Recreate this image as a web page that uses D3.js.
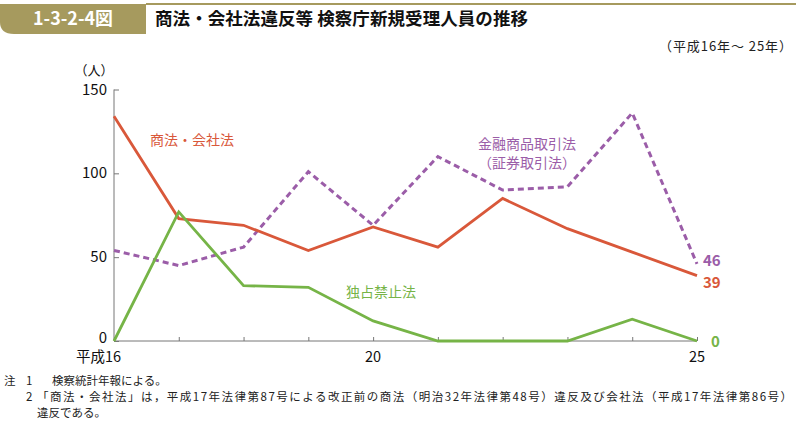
<!DOCTYPE html>
<html><head><meta charset="utf-8">
<script src="https://cdn.jsdelivr.net/npm/d3@7"></script>
<style>body{margin:0;background:#fff;}svg{display:block;font-family:"Noto Sans CJK JP","Noto Sans",sans-serif;}</style>
</head><body>
<script>
const years = [16,17,18,19,20,21,22,23,24,25];
const shoho = [134,73,69,54,68,56,85,67,53,39];
const kinyu = [54,45,56,101,69,110,90,92,136,46];
const dokusen = [0,77,33,32,12,0,0,0,13,0];
const yTicks = [0,50,100,150];
const xTickLabels = {16:"平成16",20:"20",25:"25"};

const W=796,H=421;
const svg=d3.select("body").append("svg").attr("width",W).attr("height",H);
const gold="#a69a5e";
// header
svg.append("path").attr("d","M0,4 H146 V34 H14 Q0,34 0,22 Z").attr("fill",gold);
svg.append("rect").attr("x",146).attr("y",3).attr("width",650).attr("height",2).attr("fill",gold);
svg.append("text").attr("x",33).attr("y",25).attr("fill","#fff").attr("font-weight","bold").attr("font-size",18).attr("textLength",80).attr("lengthAdjust","spacingAndGlyphs").text("1-3-2-4図");
svg.append("text").attr("x",155).attr("y",25).attr("fill","#111").attr("font-weight","bold").attr("font-size",17.5).attr("textLength",373).text("商法・会社法違反等 検察庁新規受理人員の推移");
svg.append("text").attr("x",659).attr("y",51).attr("font-size",13).attr("fill","#222").attr("textLength",133).text("（平成16年～ 25年）");

const x=d3.scaleLinear().domain([16,25]).range([114,697]);
const y=d3.scaleLinear().domain([0,150]).range([341,89.5]);

// axes
const gx=svg.append("g").attr("transform","translate(0,341)")
 .call(d3.axisBottom(x).tickValues(years).tickSize(-4).tickFormat(""));
gx.selectAll("line,path").attr("stroke","#777");
const gy=svg.append("g").attr("transform","translate(114,0)")
 .call(d3.axisLeft(y).tickValues(yTicks).tickSize(-5).tickFormat(""));
gy.selectAll("line,path").attr("stroke","#777");
gy.select(".domain").attr("d","M0,"+y(150)+"V"+y(0));
gx.select(".domain").attr("d","M"+x(16)+",0H"+x(25));

svg.selectAll(".yl").data(yTicks).join("text").attr("x",107).attr("y",d=>y(d)+(d===0?2:5))
 .attr("text-anchor","end").attr("font-size",15).attr("fill","#111").text(d=>d);
svg.append("text").attr("x",94).attr("y",75).attr("text-anchor","middle").attr("font-size",13).attr("fill","#111").text("（人）");
Object.entries(xTickLabels).forEach(([k,v])=>{
  const xx=x(+k);
  if(k=="16") svg.append("text").attr("x",xx+7).attr("y",362).attr("text-anchor","end").attr("font-size",14.5).attr("fill","#111").text(v);
  else svg.append("text").attr("x",xx).attr("y",362).attr("text-anchor","middle").attr("font-size",14.5).attr("fill","#111").text(v);
});

const red="#d9583a",purple="#9b5da8",green="#76b447";
const line=d3.line().x((d,i)=>x(years[i])).y(d=>y(d));
svg.append("path").datum(kinyu).attr("d",line).attr("fill","none").attr("stroke",purple).attr("stroke-width",3).attr("stroke-dasharray","6,4");
svg.append("path").datum(shoho).attr("d",line).attr("fill","none").attr("stroke",red).attr("stroke-width",2.8);
svg.append("path").datum(dokusen).attr("d",line).attr("fill","none").attr("stroke",green).attr("stroke-width",2.8);

svg.append("text").attr("x",150).attr("y",145).attr("font-size",14).attr("fill",red).text("商法・会社法");
svg.append("text").attr("x",527).attr("y",149).attr("text-anchor","middle").attr("font-size",14).attr("fill",purple).text("金融商品取引法");
svg.append("text").attr("x",527).attr("y",168).attr("text-anchor","middle").attr("font-size",14).attr("fill",purple).text("（証券取引法）");
svg.append("text").attr("x",346).attr("y",297).attr("font-size",14).attr("fill",green).text("独占禁止法");

svg.append("text").attr("x",703).attr("y",266).attr("font-size",15).attr("font-weight","bold").attr("fill",purple).text(kinyu[9]);
svg.append("text").attr("x",703).attr("y",288).attr("font-size",15).attr("font-weight","bold").attr("fill",red).text(shoho[9]);
svg.append("text").attr("x",711).attr("y",347).attr("font-size",15).attr("font-weight","bold").attr("fill",green).text(dokusen[9]);

const nf=11.5, nc="#222";
svg.append("text").attr("x",4).attr("y",385).attr("font-size",nf).attr("fill",nc).text("注");
svg.append("text").attr("x",26).attr("y",385).attr("font-size",nf).attr("fill",nc).text("1");
svg.append("text").attr("x",52).attr("y",385).attr("font-size",nf).attr("fill",nc).text("検察統計年報による。");
svg.append("text").attr("x",26).attr("y",401).attr("font-size",nf).attr("fill",nc).text("2");
svg.append("text").attr("x",37).attr("y",401).attr("font-size",nf).attr("fill",nc).attr("textLength",755)
 .text("「商法・会社法」は，平成17年法律第87号による改正前の商法（明治32年法律第48号）違反及び会社法（平成17年法律第86号）");
svg.append("text").attr("x",37).attr("y",417).attr("font-size",nf).attr("fill",nc).text("違反である。");
</script>
</body></html>
